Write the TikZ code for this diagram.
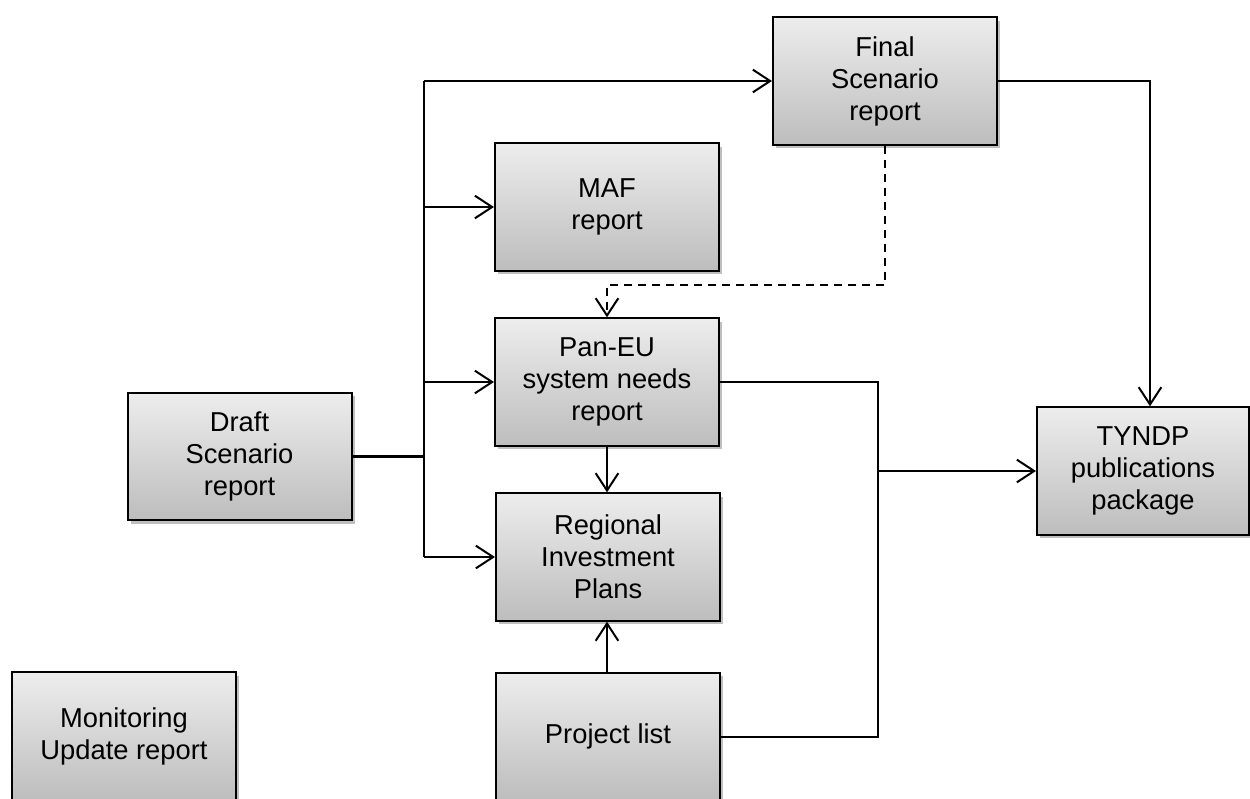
\documentclass[tikz,border=0pt]{standalone}
\usepackage{fontspec}
\setmainfont{Liberation Sans}
\usetikzlibrary{arrows.meta,shadows}
\definecolor{boxtop}{HTML}{EDEDED}
\definecolor{boxbot}{HTML}{BDBDBD}
\begin{document}
\begin{tikzpicture}[x=0.75pt,y=-0.75pt,
  box/.style={draw=black, line width=1.5pt, top color=boxtop, bottom color=boxbot,
    align=center, inner sep=0pt, font=\fontsize{20.5}{24}\selectfont,
    minimum width=168pt, minimum height=95.5pt,
    drop shadow={shadow xshift=2.5pt, shadow yshift=-2.5pt, fill=black, opacity=0.25}},
  conn/.style={line width=1.5pt},
  arr/.style={conn, -{Straight Barb[length=13pt,width=17pt]}}]
\useasboundingbox (0,0) rectangle (1250,799);
\clip (0,0) rectangle (1250,799);

\node[box] (final) at (885,81) {Final\\Scenario\\report};
\node[box] (maf) at (607,207) {MAF\\report};
\node[box] (pan) at (607,382) {Pan-EU\\system needs\\report};
\node[box] (reg) at (608,557) {Regional\\Investment\\Plans};
\node[box] (proj) at (608,736.5) {Project list};
\node[box] (draft) at (239.5,456.5) {Draft\\Scenario\\report};
\node[box] (mon) at (124,736) {Monitoring\\Update report};
\node[box, minimum width=159pt] (tyndp) at (1143,471) {TYNDP\\publications\\package};

\coordinate (jx) at (424,0);
\coordinate (kx) at (878,0);
\coordinate (tx) at (1150,0);
\coordinate (dy) at (0,285);

\draw[conn, line width=2pt] (draft.east) -- (draft.east -| jx);
\draw[conn] (jx |- final.west) -- (jx |- reg.west);
\draw[arr] (jx |- final.west) -- (final.west);
\draw[arr] (jx |- maf.west) -- (maf.west);
\draw[arr] (jx |- pan.west) -- (pan.west);
\draw[arr] (jx |- reg.west) -- (reg.west);
\draw[arr, dash pattern=on 6pt off 4.5pt] (final.south) -- (final.south |- dy) -- (pan.north |- dy) -- (pan.north);
\draw[arr] (final.east) -- (final.east -| tx) -- (tyndp.north -| tx);
\draw[conn] (pan.east) -- (pan.east -| kx) -- (proj.east -| kx) -- (proj.east);
\draw[arr] (kx |- tyndp.west) -- (tyndp.west);
\draw[arr] (pan.south) -- (pan.south |- reg.north);
\draw[arr] (proj.north -| pan.south) -- (reg.south -| pan.south);
\end{tikzpicture}
\end{document}
